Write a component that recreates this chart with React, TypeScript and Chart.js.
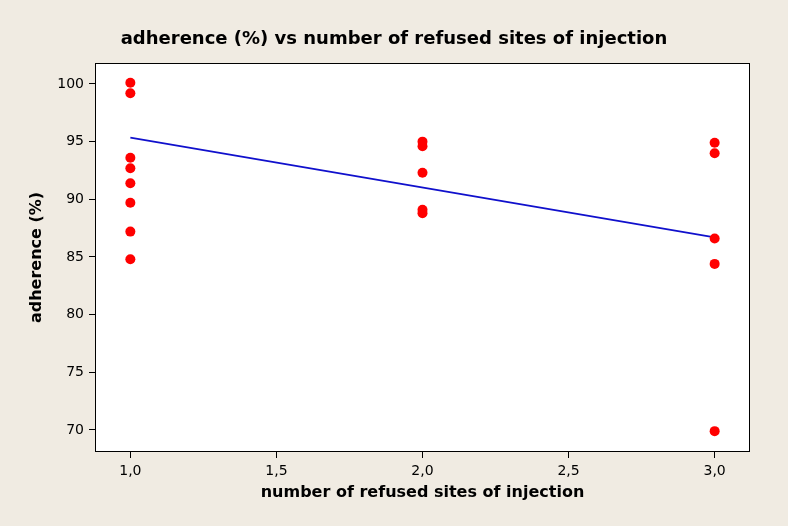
import React, { useEffect, useRef } from "react";
import { Chart, registerables } from "chart.js";

Chart.register(...registerables);

// ---- data ----
const chartTitle = "adherence (%) vs number of refused sites of injection";
const xAxisTitle = "number of refused sites of injection";
const yAxisTitle = "adherence (%)";

const adherenceAt1 = [100.1, 99.2, 93.6, 92.7, 91.4, 89.7, 87.2, 84.8];
const adherenceAt2 = [95.0, 94.6, 92.3, 89.1, 88.8];
const adherenceAt3 = [94.9, 94.0, 86.6, 84.4, 69.9];

const fitX = [1, 3];
const fitY = [95.35, 86.7];

const xTicks = [1.0, 1.5, 2.0, 2.5, 3.0];
const yTicks = [70, 75, 80, 85, 90, 95, 100];

const xMin = 0.879;
const xMax = 3.121;
const yMin = 68.09;
const yMax = 101.82;

const BG = "#F0EBE2";

const framePlugin = {
  id: "frame",
  beforeDraw(chart: any) {
    const { ctx, chartArea, width, height } = chart;
    ctx.save();
    ctx.fillStyle = BG;
    ctx.fillRect(0, 0, width, height);
    ctx.fillStyle = "#FFFFFF";
    ctx.fillRect(chartArea.left, chartArea.top, chartArea.right - chartArea.left, chartArea.bottom - chartArea.top);
    ctx.restore();
  },
  afterDraw(chart: any) {
    const { ctx, chartArea } = chart;
    ctx.save();
    ctx.strokeStyle = "#000000";
    ctx.lineWidth = 1;
    ctx.strokeRect(
      Math.round(chartArea.left) + 0.5,
      Math.round(chartArea.top) + 0.5,
      Math.round(chartArea.right - chartArea.left) - 1,
      Math.round(chartArea.bottom - chartArea.top) - 1
    );
    ctx.restore();
  },
};

export default function App() {
  const ref = useRef<HTMLCanvasElement | null>(null);

  useEffect(() => {
    if (!ref.current) return;
    const points = [
      ...adherenceAt1.map((y) => ({ x: 1, y })),
      ...adherenceAt2.map((y) => ({ x: 2, y })),
      ...adherenceAt3.map((y) => ({ x: 3, y })),
    ];
    const fit = fitX.map((x, i) => ({ x, y: fitY[i] }));

    const chart = new Chart(ref.current, {
      type: "scatter",
      data: {
        datasets: [
          {
            label: "adherence",
            data: points,
            backgroundColor: "#FF0000",
            borderColor: "#FF0000",
            borderWidth: 0,
            pointRadius: 5,
            order: 1,
          },
          {
            label: "fit",
            data: fit,
            showLine: true,
            borderColor: "#1010CC",
            borderWidth: 1.6,
            pointRadius: 0,
            fill: false,
            order: 2,
          } as any,
        ],
      },
      options: {
        responsive: false,
        animation: false,
        layout: { padding: 0 },
        plugins: {
          legend: { display: false },
          tooltip: { enabled: false },
          title: {
            display: true,
            text: chartTitle,
            color: "#000000",
            font: { family: "DejaVu Sans", size: 18, weight: "bold", lineHeight: 1.2 },
            padding: { top: 28.2, bottom: 13.2 },
          },
        },
        scales: {
          x: {
            type: "linear",
            min: xMin,
            max: xMax,
            afterBuildTicks: (scale: any) => {
              scale.ticks = xTicks.map((v) => ({ value: v }));
            },
            afterFit: (scale: any) => {
              scale.height = 74;
            },
            border: { display: false },
            grid: {
              drawOnChartArea: false,
              drawTicks: true,
              tickLength: 6,
              color: "#000000",
              lineWidth: 1,
            },
            ticks: {
              color: "#000000",
              padding: 5,
              maxRotation: 0,
              font: { family: "DejaVu Sans", size: 14 },
              callback: (v: any) => Number(v).toFixed(1).replace(".", ","),
            },
            title: {
              display: true,
              text: xAxisTitle,
              color: "#000000",
              font: { family: "DejaVu Sans", size: 16, weight: "bold", lineHeight: 1.2 },
              padding: { top: 0, bottom: 23.4 },
            },
          },
          y: {
            type: "linear",
            position: "left",
            min: yMin,
            max: yMax,
            afterBuildTicks: (scale: any) => {
              scale.ticks = yTicks.map((v) => ({ value: v }));
            },
            afterFit: (scale: any) => {
              scale.width = 95;
            },
            border: { display: false },
            grid: {
              drawOnChartArea: false,
              drawTicks: true,
              tickLength: 6,
              color: "#000000",
              lineWidth: 1,
            },
            ticks: {
              color: "#000000",
              padding: 5,
              font: { family: "DejaVu Sans", size: 14 },
              callback: (v: any) => String(Math.round(Number(v))),
            },
            title: {
              display: true,
              text: yAxisTitle,
              color: "#000000",
              font: { family: "DejaVu Sans", size: 16, weight: "bold", lineHeight: 1.2 },
              padding: { top: 27.4, bottom: 0 },
            },
          },
          yRightSpacer: {
            type: "linear",
            position: "right",
            display: true,
            min: yMin,
            max: yMax,
            afterFit: (scale: any) => {
              scale.width = 38;
            },
            border: { display: false },
            grid: { display: false, drawTicks: false },
            ticks: { display: false },
            title: { display: false },
          },
        },
      },
      plugins: [framePlugin],
    });
    return () => chart.destroy();
  }, []);

  return (
    <div style={{ position: "absolute", left: 0, top: 0, width: 788, height: 526, background: BG }}>
      <canvas ref={ref} width={788} height={526} style={{ display: "block", width: 788, height: 526 }} />
    </div>
  );
}
